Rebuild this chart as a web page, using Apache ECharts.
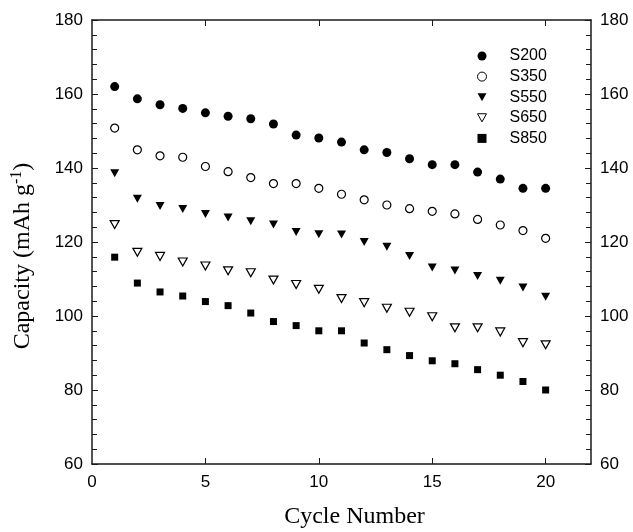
<!DOCTYPE html>
<html><head><meta charset="utf-8">
<script src="https://cdn.jsdelivr.net/npm/echarts@6/dist/echarts.min.js"></script>
<style>html,body{margin:0;padding:0;background:#fff}#c{width:633px;height:532px}</style>
</head><body><div id="c"></div>
<script>
const cycles = [1,2,3,4,5,6,7,8,9,10,11,12,13,14,15,16,17,18,19,20];
const s200 = [162.0,158.7,157.1,156.1,154.9,154.0,153.3,151.9,148.9,148.1,147.0,144.9,144.2,142.5,140.9,140.9,138.9,137.0,134.5,134.5];
const s350 = [150.8,144.9,143.3,142.9,140.4,139.0,137.4,135.8,135.8,134.5,132.9,131.4,130.0,129.0,128.3,127.6,126.1,124.6,123.1,121.0];
const s550 = [138.6,131.7,129.7,128.9,127.6,126.6,125.6,124.7,122.7,122.1,122.0,120.0,118.7,116.2,113.1,112.3,110.8,109.5,107.7,105.2];
const s650 = [124.7,117.2,116.1,114.6,113.5,112.2,111.7,109.7,108.5,107.2,104.7,103.6,102.1,101.0,99.8,96.8,96.8,95.7,92.8,92.2];
const s850 = [115.9,108.9,106.5,105.4,103.9,102.8,100.8,98.5,97.4,96.0,96.0,92.7,90.9,89.3,87.9,87.1,85.5,84.0,82.3,80.0];
const xTicks = [0,5,10,15,20];
const yTicks = [60,80,100,120,140,160,180];

const downTri = 'path://M0,0 L10,0 L5,9 Z';
function pts(v){ return cycles.map((c,i)=>[c,v[i]]); }
const axisColor = '#1a1a1a';
const lblFont = {fontFamily:'Liberation Sans', fontSize:17, color:'#000'};

const chart = echarts.init(document.getElementById('c'));
chart.setOption({
  animation:false,
  backgroundColor:'#fff',
  grid:{left:92, right:42, top:20, bottom:68, outerBoundsMode:'none', containLabel:false},
  legend:{
    orient:'vertical', left:472, top:43, itemWidth:9, itemHeight:9, itemGap:4.6,
    itemStyle:{borderWidth:1},
    textStyle:{fontFamily:'Liberation Sans', fontSize:16, color:'#000', lineHeight:16, padding:[0,0,0,18]},
    data:['S200','S350','S550','S650','S850']
  },
  xAxis:[{
    type:'value', min:0, max:22, interval:5, position:'bottom',
    name:'Cycle Number', nameLocation:'middle', nameGap:41,
    nameTextStyle:{fontFamily:'Liberation Serif', fontSize:24, color:'#000', padding:[0,0,0,26]},
    axisLine:{show:true, onZero:false, lineStyle:{color:axisColor, width:1.5}},
    axisTick:{show:true, inside:true, length:6, customValues:[5,10,15,20], lineStyle:{color:axisColor}},
    axisLabel:{...lblFont, margin:10, customValues:xTicks},
    splitLine:{show:false}
  },{
    type:'value', min:0, max:22, interval:5, position:'top',
    axisLine:{show:true, onZero:false, lineStyle:{color:axisColor, width:1.5}},
    axisTick:{show:true, inside:true, length:6, customValues:[5,10,15,20], lineStyle:{color:axisColor}},
    axisLabel:{show:false}, splitLine:{show:false}
  }],
  yAxis:[{
    type:'value', min:60, max:180, interval:20, position:'left',
    name:'Capacity (mAh g{sup|-1})', nameLocation:'middle', nameGap:55,
    nameTextStyle:{fontFamily:'Liberation Serif', fontSize:24, color:'#000', padding:[0,28,0,0],
      rich:{sup:{fontFamily:'Liberation Serif', fontSize:16, color:'#000', verticalAlign:'top', padding:[0,0,12,0]}}},
    axisLine:{show:true, onZero:false, lineStyle:{color:axisColor, width:1.5}},
    axisTick:{show:true, inside:true, length:6, lineStyle:{color:axisColor}},
    minorTick:{show:true, splitNumber:5, length:5, lineStyle:{color:axisColor}},
    axisLabel:{...lblFont, margin:9, customValues:yTicks},
    splitLine:{show:false}
  },{
    type:'value', min:60, max:180, interval:20, position:'right',
    axisLine:{show:true, onZero:false, lineStyle:{color:axisColor, width:1.5}},
    axisTick:{show:true, inside:true, length:6, lineStyle:{color:axisColor}},
    minorTick:{show:true, splitNumber:5, length:5, lineStyle:{color:axisColor}},
    axisLabel:{...lblFont, margin:9, customValues:yTicks},
    splitLine:{show:false}
  }],
  series:[
    {name:'S200', type:'scatter', data:pts(s200), symbol:'circle', symbolSize:9,
     itemStyle:{color:'#000', opacity:1}},
    {name:'S350', type:'scatter', data:pts(s350), symbol:'circle', symbolSize:8,
     itemStyle:{color:'#fff', borderColor:'#000', borderWidth:1.2, opacity:1}},
    {name:'S550', type:'scatter', data:pts(s550), symbol:downTri, symbolSize:[9,8],
     itemStyle:{color:'#000', opacity:1}},
    {name:'S650', type:'scatter', data:pts(s650), symbol:downTri, symbolSize:[9,8],
     itemStyle:{color:'#fff', borderColor:'#000', borderWidth:1.2, opacity:1}},
    {name:'S850', type:'scatter', data:pts(s850), symbol:'rect', symbolSize:7,
     itemStyle:{color:'#000', opacity:1}}
  ]
});
</script></body></html>
